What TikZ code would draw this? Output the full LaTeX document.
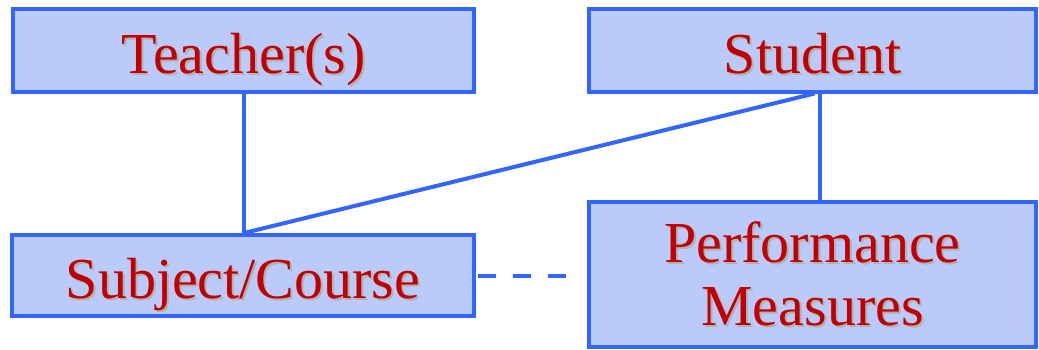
\documentclass[tikz,border=0pt]{standalone}
\usepackage{fontspec}
\setmainfont{Liberation Serif}
\definecolor{edgeblue}{RGB}{51,102,255}
\definecolor{boxfill}{RGB}{185,202,251}
\definecolor{labelred}{RGB}{192,0,0}
% text with a soft grey drop shadow
\newcommand\shtxt[1]{\leavevmode\rlap{\kern2pt\raisebox{-2pt}{\textcolor{black!30}{#1}}}#1}
\begin{document}
\begin{tikzpicture}[x=1pt,y=1pt,
  entity/.style={draw=edgeblue, fill=boxfill, line width=4pt, inner sep=0pt,
    font=\fontsize{58}{63}\selectfont, text=labelred, align=center},
  oneline/.style={entity, text height=52pt, text depth=6pt},
  link/.style={draw=edgeblue, line width=4pt}]
\useasboundingbox (0,0) rectangle (1039,349);
\node[oneline, minimum width=461, minimum height=82] (teacher) at (243.5,298.5) {\shtxt{Teacher(s)}};
\node[oneline, minimum width=447, minimum height=82] (student) at (812.5,298.5) {\shtxt{Student}};
\node[oneline, minimum width=462, minimum height=81] (subject) at (243,73.5) {\shtxt{Subject/Course}};
\node[entity, minimum width=447, minimum height=145] (perf) at (812.5,74.5) {\shtxt{Performance}\\\shtxt{Measures}};
\coordinate (tj) at ([xshift=0.5pt]teacher.south);
\coordinate (sj) at ([xshift=7.5pt]student.south);
\coordinate (sk) at ([xshift=2pt]student.south);
\draw[link] (tj) -- (tj |- subject.north);
\draw[link] (sj) -- (sj |- perf.north);
\draw[link] (sk) -- ([xshift=1pt]subject.north);
\draw[link, dash pattern=on 18pt off 17pt, shorten <=2pt, shorten >=15pt] (subject.east) -- (subject.east -| perf.west);
\end{tikzpicture}
\end{document}
